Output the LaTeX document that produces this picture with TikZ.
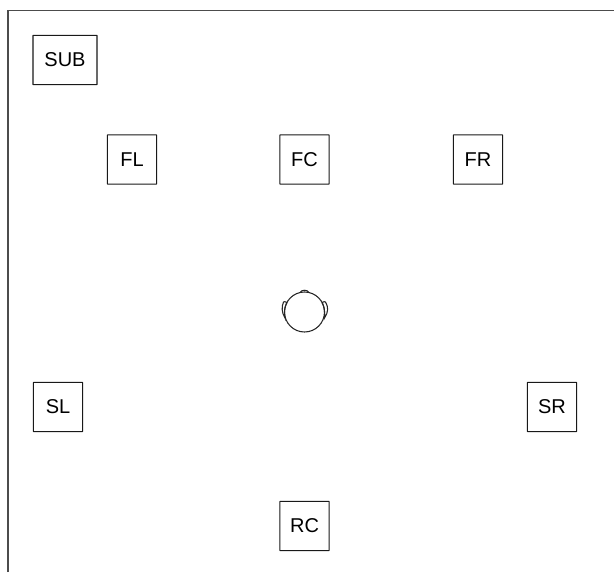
\documentclass[tikz,border=0pt]{standalone}
\usepackage{fontspec}
\setmainfont{Liberation Sans}
\tikzset{
  spk/.style={draw=black!90, line width=0.8pt, minimum height=37pt, minimum width=37pt, inner sep=0pt, font=\fontsize{15pt}{17pt}\selectfont, text=black, rounded corners=0.3pt},
  headline/.style={draw=black!85, line width=0.8pt},
  frameline/.style={draw=black!70, line width=0.9pt}
}
\begin{document}
\begin{tikzpicture}[x=0.75pt,y=-0.75pt]
\useasboundingbox (0,0) rectangle (614,572);
\draw[frameline] (8,572) -- (8,10.5) -- (614,10.5);
\node[spk, minimum width=48pt] (sub) at (65,60) {SUB};
\node[spk] (fl) at (132,159.5) {FL};
\node[spk] (fc) at (304.5,159.5) {FC};
\node[spk] (fr) at (478,159.5) {FR};
\node[spk] (sl) at (58,407) {SL};
\node[spk] (sr) at (552,407) {SR};
\node[spk] (rc) at (304.5,526) {RC};
% head
\draw[headline] (304.5,312) circle[radius=20];
\draw[headline] (300,292.5) .. controls (301.5,289.5) and (307.5,289.5) .. (309,292.5);
\draw[headline] (287,302.5) .. controls (285.5,301.5) and (284,301.5) .. (283.5,302) .. controls (281.5,307) and (281.5,312) .. (285,318) .. controls (284,312) and (284.5,307) .. (287,302.5);
\draw[headline] (322,302.5) .. controls (323.5,301.5) and (325,301.5) .. (325.5,302) .. controls (328.5,307) and (328.5,312) .. (324.5,318) .. controls (325,312) and (324.5,307) .. (322,302.5);
\end{tikzpicture}
\end{document}
